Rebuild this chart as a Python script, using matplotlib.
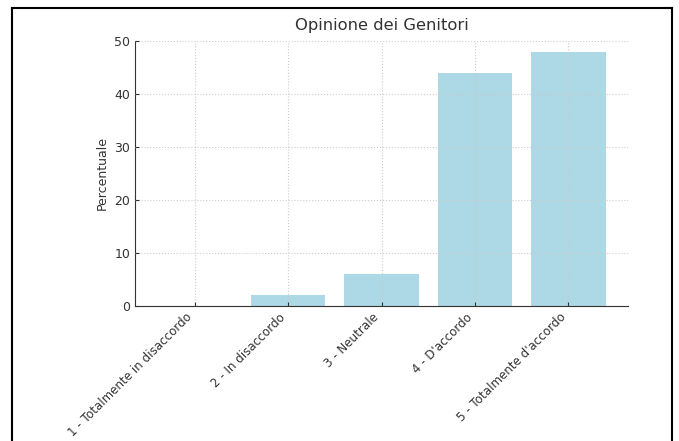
import matplotlib.pyplot as plt
from matplotlib.lines import Line2D

categories = ['1 - Totalmente in disaccordo', '2 - In disaccordo', '3 - Neutrale',
              "4 - D'accordo", "5 - Totalmente d'accordo"]
percent = [0, 2, 6, 44, 48]
yticks = [0, 10, 20, 30, 40, 50]

W, H = 679, 441
fig = plt.figure(figsize=(W / 100, H / 100), dpi=100)
ax = fig.add_axes([135 / W, 1 - 306 / H, (628 - 135) / W, (306 - 41) / H])

ax.bar(categories, percent, color='#ADD8E6', width=0.8)
ax.set_ylim(0, 50)
ax.set_yticks(yticks)
ax.grid(True, linestyle=':', color='#cccccc', linewidth=0.8)
ax.set_axisbelow(False)
for s in ('top', 'right'):
    ax.spines[s].set_visible(False)
for s in ('left', 'bottom'):
    ax.spines[s].set_color('#333333')
ax.tick_params(direction='in', length=3, labelsize=9, colors='#333333')
plt.setp(ax.get_xticklabels(), rotation=45, ha='right', fontsize=8.6)
ax.set_ylabel('Percentuale', fontsize=9, color='#333333')
ax.set_title('Opinione dei Genitori', fontsize=11.8, color='#333333', pad=8)

# screenshot frame
fig.add_artist(Line2D([11.5 / W, 11.5 / W], [0, 1 - 7.5 / H], transform=fig.transFigure, color='black', lw=1.5))
fig.add_artist(Line2D([11.5 / W, 672 / W], [1 - 7.5 / H, 1 - 7.5 / H], transform=fig.transFigure, color='black', lw=1.5))
fig.add_artist(Line2D([672 / W, 672 / W], [0, 1 - 7.5 / H], transform=fig.transFigure, color='black', lw=1.5))

fig.savefig('out.png', dpi=100)
